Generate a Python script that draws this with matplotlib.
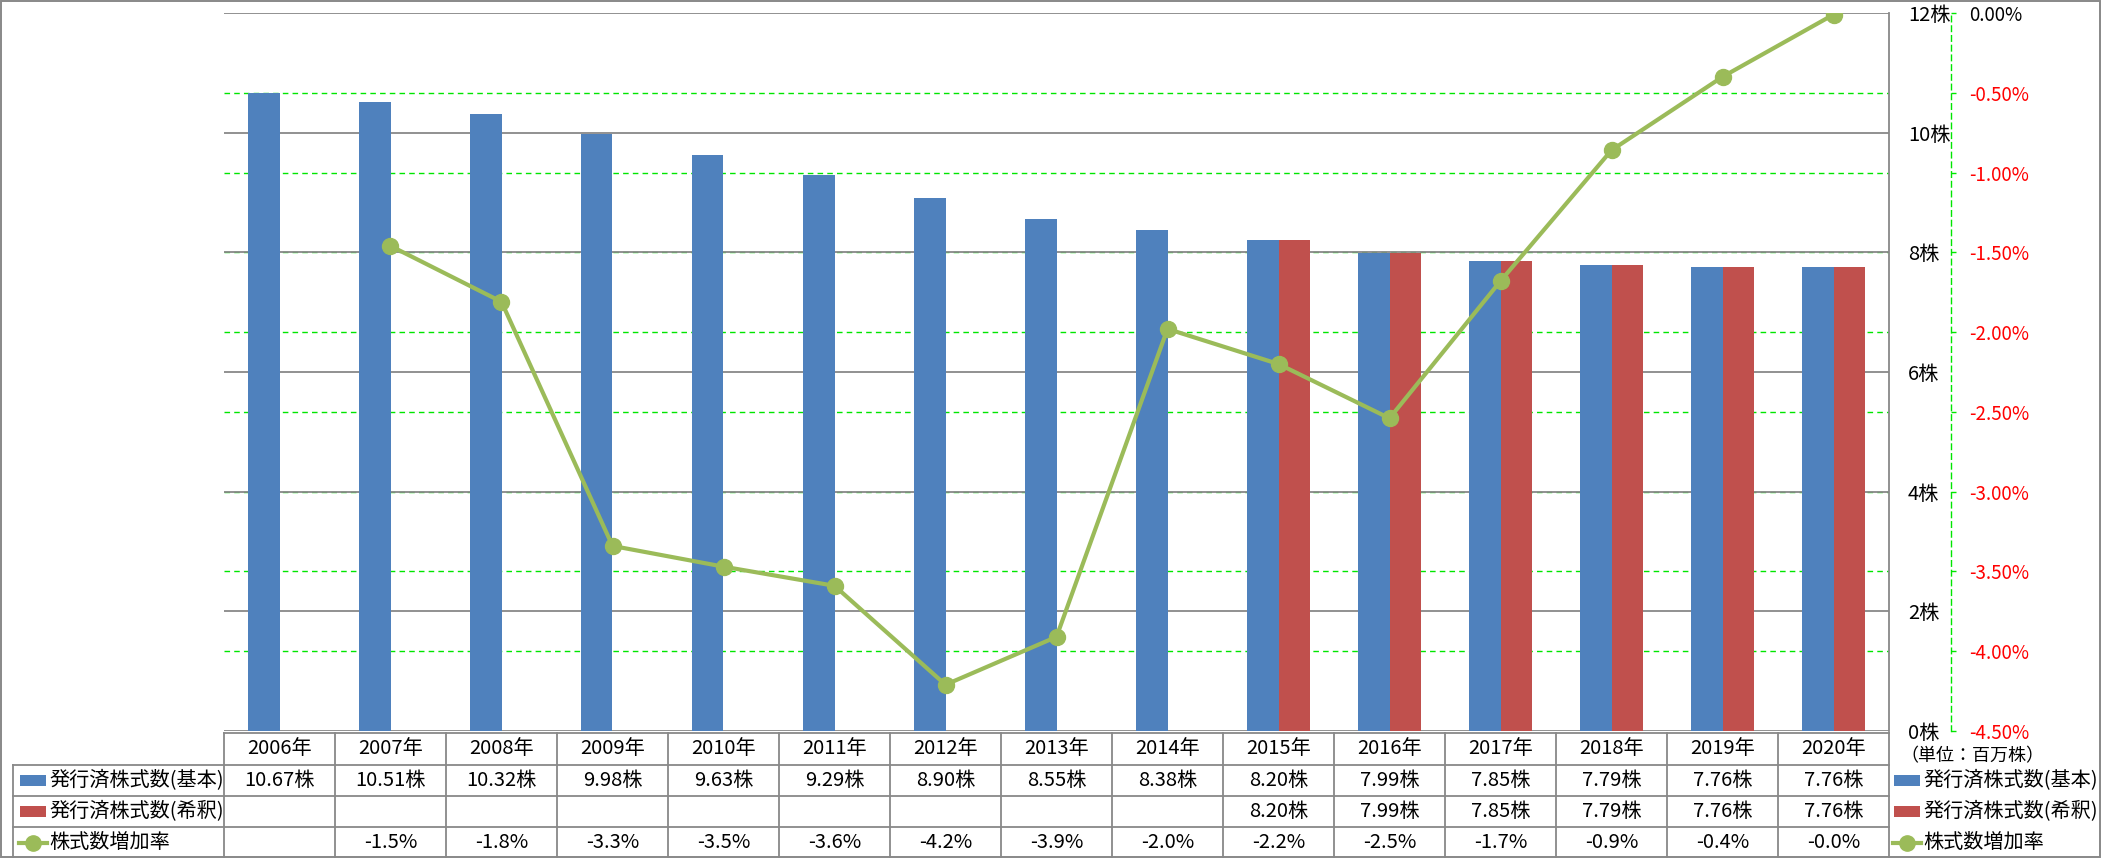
import numpy as np
import matplotlib
matplotlib.use('Agg')
import matplotlib.pyplot as plt
from matplotlib.lines import Line2D
from matplotlib.patches import Rectangle
import matplotlib.transforms as mtransforms

plt.rcParams['font.family'] = ['Noto Sans CJK JP', 'DejaVu Sans']

# ---------------- data ----------------
years = ['2006年', '2007年', '2008年', '2009年', '2010年', '2011年', '2012年', '2013年',
         '2014年', '2015年', '2016年', '2017年', '2018年', '2019年', '2020年']
basic = [10.67, 10.51, 10.32, 9.98, 9.63, 9.29, 8.90, 8.55, 8.38, 8.20, 7.99, 7.85, 7.79, 7.76, 7.76]
diluted = [np.nan] * 9 + [8.20, 7.99, 7.85, 7.79, 7.76, 7.76]
growth = [np.nan, -1.46, -1.81, -3.34, -3.47, -3.59, -4.21, -3.91, -1.98, -2.20, -2.54,
          -1.68, -0.86, -0.40, -0.01]
left_ticks = [0, 2, 4, 6, 8, 10, 12]
right_ticks = [0.0, -0.5, -1.0, -1.5, -2.0, -2.5, -3.0, -3.5, -4.0, -4.5]
series_names = ['発行済株式数(基本)', '発行済株式数(希釈)', '株式数増加率']
unit_label = '（単位：百万株）'

# ---------------- style ----------------
BLUE = '#4F81BD'
RED = '#C0504D'
GREEN = '#9BBB59'
GRID_GREEN = '#00E600'
GREY = '#888888'
FS = 14.5

W, H = 2101, 858
fig = plt.figure(figsize=(W / 100, H / 100), dpi=100)


def fx(p):
    return p / W


def fy(p):
    return 1 - p / H


L, R, T, B = 224, 1889, 13, 731
ax = fig.add_axes([fx(L), fy(B), (R - L) / W, (B - T) / H])
ax2 = ax.twinx()

x = np.arange(len(years))
bw = 0.288

ax.set_xlim(-0.5, len(years) - 0.5)
ax.set_ylim(0, 12)
ax2.set_ylim(-4.5, 0)

# grey grid
for v in left_ticks:
    ax.axhline(v, color=GREY, lw=1.3, zorder=0.6)
# green dashed grid of secondary axis, behind bars
gtrans = mtransforms.blended_transform_factory(ax.transAxes, ax2.transData)
for v in right_ticks[1:-1]:
    ax.plot([0, 1], [v, v], transform=gtrans, color=GRID_GREEN, lw=1.0,
            ls=(0, (4, 3)), zorder=0.5)

ax.bar(x - bw / 2, basic, width=bw, color=BLUE, zorder=2)
ax.bar(x + bw / 2, diluted, width=bw, color=RED, zorder=2)

ax2.plot(x, growth, color=GREEN, lw=3, marker='o', ms=11.5, zorder=3)

# spines / ticks primary
for s in ['left', 'top', 'bottom']:
    ax.spines[s].set_visible(False)
ax.spines['right'].set_color(GREY)
ax.spines['right'].set_linewidth(1.3)
ax.set_xticks([])
ax.yaxis.tick_right()
ax.set_yticks(left_ticks, [f'{v}株' for v in left_ticks])
ax.tick_params(axis='y', length=0, pad=13.5, labelsize=FS)

# secondary axis
for s in ['left', 'top', 'bottom']:
    ax2.spines[s].set_visible(False)
ax2.spines['right'].set_position(('axes', (1951 - L) / (R - L)))
ax2.spines['right'].set_color(GRID_GREEN)
ax2.spines['right'].set_linestyle((0, (4, 3)))
ax2.spines['right'].set_linewidth(1.0)
ax2.set_yticks(right_ticks, [f'{v:.2f}%' for v in right_ticks])
ax2.tick_params(axis='y', direction='out', length=3.5, width=1.0, color=GRID_GREEN,
                pad=9.5, labelsize=13.5)
for lab, v in zip(ax2.get_yticklabels(), right_ticks):
    lab.set_color('black' if v == 0 else '#FF0000')

# ---------------- data table ----------------
tt = mtransforms.blended_transform_factory(ax.transData, fig.transFigure)
rows_y = [733, 765, 796, 827, 858]
xl, xr = -0.5, len(years) - 0.5
# header top
ax.add_line(Line2D([xl, xr], [fy(733)] * 2, transform=tt, color=GREY, lw=1.3, clip_on=False))
for yy in rows_y[1:4]:
    fig.add_artist(Line2D([fx(13), fx(R)], [fy(yy)] * 2, color=GREY, lw=1.3))
for i in range(len(years) + 1):
    ax.add_line(Line2D([i - 0.5, i - 0.5], [fy(733), fy(858)], transform=tt, color=GREY,
                       lw=1.3, clip_on=False))
fig.add_artist(Line2D([fx(13), fx(13)], [fy(765), fy(858)], color=GREY, lw=1.3))

cy = [(rows_y[k] + rows_y[k + 1]) / 2 for k in range(4)]
for i, yr in enumerate(years):
    ax.text(i, fy(cy[0]), yr, transform=tt, ha='center', va='center', fontsize=FS, clip_on=False)
    ax.text(i, fy(cy[1]), f'{basic[i]:.2f}株', transform=tt, ha='center', va='center',
            fontsize=FS, clip_on=False)
    if not np.isnan(diluted[i]):
        ax.text(i, fy(cy[2]), f'{diluted[i]:.2f}株', transform=tt, ha='center', va='center',
                fontsize=FS, clip_on=False)
    if not np.isnan(growth[i]):
        ax.text(i, fy(cy[3]), f'{growth[i]:.1f}%', transform=tt, ha='center', va='center',
                fontsize=FS, clip_on=False)


def legend_key(x0, yc, kind):
    if kind == 'line':
        fig.add_artist(Line2D([fx(x0 - 1), fx(x0 + 27)], [fy(yc)] * 2, color=GREEN, lw=3))
        fig.add_artist(Line2D([fx(x0 + 13)], [fy(yc)], color=GREEN, marker='o', ms=11))
    else:
        fig.add_artist(Rectangle((fx(x0), fy(yc + 5.5)), 26 / W, 11 / H,
                                 transform=fig.transFigure, color=kind, lw=0))


keys = [BLUE, RED, 'line']
for k in range(3):
    legend_key(20, cy[k + 1], keys[k])
    fig.text(fx(49), fy(cy[k + 1]), series_names[k], ha='left', va='center', fontsize=FS)
    legend_key(1894, cy[k + 1], keys[k])
    fig.text(fx(1923), fy(cy[k + 1]), series_names[k], ha='left', va='center', fontsize=FS)

fig.text(fx(1900), fy(756), unit_label, ha='left', va='center', fontsize=13)

# outer border
fig.add_artist(Rectangle((0.7 / W, 0.7 / H), 1 - 1.4 / W, 1 - 1.4 / H, transform=fig.transFigure,
                         fill=False, edgecolor=GREY, lw=1.4))

fig.savefig('out.png', dpi=100)
